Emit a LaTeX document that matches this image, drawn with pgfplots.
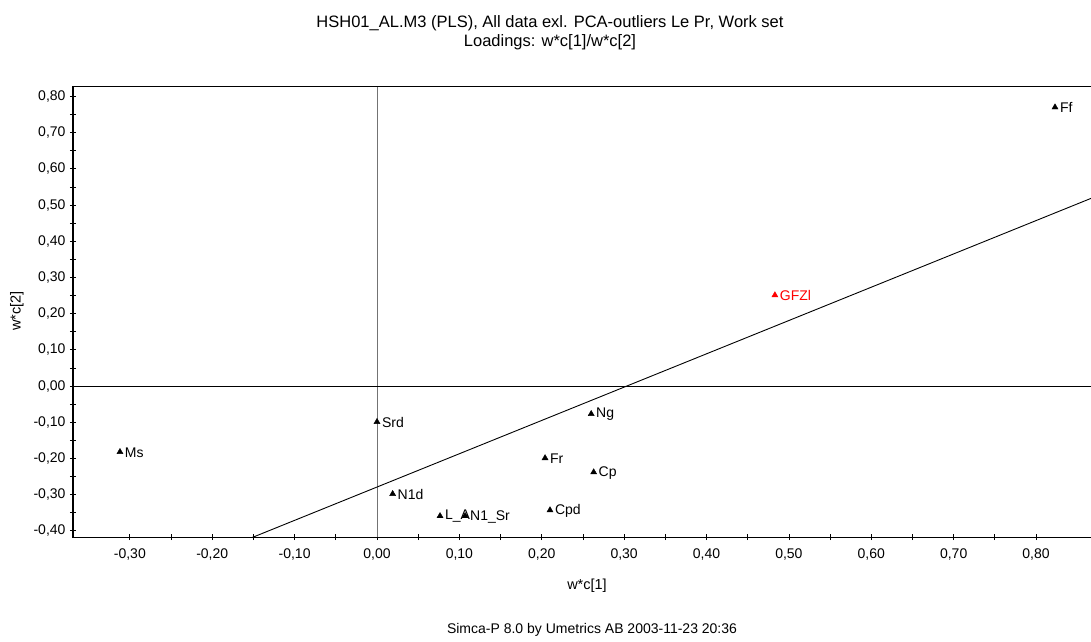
\documentclass[border=0pt]{standalone}
\usepackage{pgfplots}
\pgfplotsset{compat=1.18}
\usepackage{fontspec}
\setmainfont{Liberation Sans}
\newcommand{\lbl}{\fontsize{14}{16}\selectfont}
\begin{document}
\begin{tikzpicture}
\useasboundingbox (0pt,0pt) rectangle (1091pt,641pt);
% titles and footer
\node[font=\fontsize{16.5}{19}\selectfont, anchor=base] at (550pt,613pt)
  {HSH01\_AL.M3 (PLS), All data exl. PCA-outliers Le Pr, Work set};
\node[font=\fontsize{16.5}{19}\selectfont, anchor=base] at (550pt,594.5pt)
  {Loadings: w*c[1]/w*c[2]};
\node[font=\fontsize{14}{16}\selectfont] at (592pt,11pt) {Simca-P 8.0 by Umetrics AB 2003-11-23 20:36};
\node[font=\fontsize{14.5}{16}\selectfont] at (587pt,55pt) {w*c[1]};
\node[font=\fontsize{14.5}{16}\selectfont, rotate=90] at (17pt,330pt) {w*c[2]};
\begin{axis}[
  at={(73pt,104pt)}, anchor=south west,
  scale only axis, width=1029pt, height=450pt,
  xmin=-0.369, xmax=0.880, ymin=-0.417, ymax=0.826,
  axis line style={line width=1pt, black},
  xtick={-0.3,-0.2,-0.1,0,0.1,0.2,0.3,0.4,0.5,0.6,0.7,0.8},
  xticklabels={{-0,30},{-0,20},{-0,10},{0,00},{0,10},{0,20},{0,30},{0,40},{0,50},{0,60},{0,70},{0,80}},
  ytick={-0.4,-0.3,-0.2,-0.1,0,0.1,0.2,0.3,0.4,0.5,0.6,0.7,0.8},
  yticklabels={{-0,40},{-0,30},{-0,20},{-0,10},{0,00},{0,10},{0,20},{0,30},{0,40},{0,50},{0,60},{0,70},{0,80}},
  minor tick num=1,
  xtick pos=bottom, ytick pos=left,
  tick align=center,
  major tick length=6pt, minor tick length=6pt,
  tick style={black, line width=0.8pt},
  ticklabel style={font=\lbl},
  xticklabel style={yshift=-5pt},
  yticklabel style={xshift=-1pt},
  clip=true,
]
% reference lines through the origin
\draw[black!55, line width=0.8pt] (axis cs:0,-0.417) -- (axis cs:0,0.826);
\draw[black, line width=0.8pt] (axis cs:-0.369,0) -- (axis cs:0.880,0);
% fitted line
\addplot[black, line width=0.9pt] coordinates {(-0.20,-0.463) (0.90,0.549)};
% loadings
\addplot[only marks, mark=triangle*, mark size=3.5pt, black,
  nodes near coords, point meta=explicit symbolic,
  nodes near coords style={anchor=west, font=\lbl, xshift=1.5pt, yshift=-0.5pt, black}]
  table[meta=label] {
x y label
0.823 0.770 Ff
0.260 -0.077 Ng
0.000 -0.099 Srd
-0.312 -0.182 Ms
0.204 -0.199 Fr
0.263 -0.238 Cp
0.019 -0.298 N1d
0.210 -0.343 Cpd
0.0765 -0.359 L\_A
0.107 -0.359 N1\_Sr
};
\addplot[only marks, mark=triangle*, mark size=3.5pt, red,
  nodes near coords, point meta=explicit symbolic,
  nodes near coords style={anchor=west, font=\lbl, xshift=1.5pt, yshift=-0.5pt, red}]
  table[meta=label] {
x y label
0.483 0.251 GFZl
};
\end{axis}
\end{tikzpicture}
\end{document}
